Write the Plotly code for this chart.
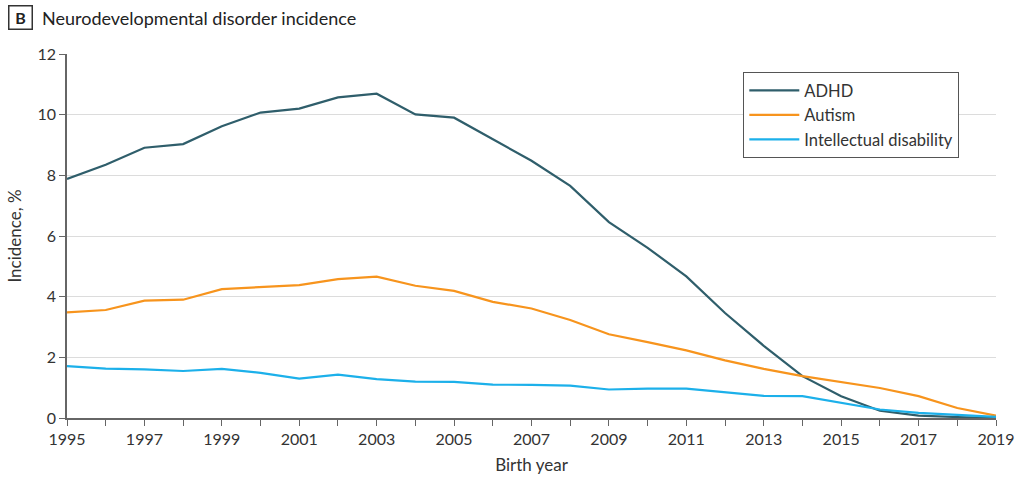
import plotly.graph_objects as go

years = list(range(1995, 2020))
adhd = [7.88, 8.35, 8.91, 9.03, 9.62, 10.07, 10.2, 10.57, 10.69, 10.01, 9.9,
        9.19, 8.48, 7.65, 6.46, 5.61, 4.67, 3.46, 2.38, 1.38, 0.72, 0.24, 0.08, 0.03, 0.0]
autism = [3.48, 3.56, 3.87, 3.9, 4.25, 4.31, 4.38, 4.58, 4.66, 4.36, 4.19,
          3.83, 3.61, 3.23, 2.76, 2.5, 2.23, 1.9, 1.62, 1.38, 1.18, 0.99, 0.72, 0.33, 0.08]
intellectual = [1.71, 1.63, 1.6, 1.55, 1.62, 1.49, 1.3, 1.43, 1.28, 1.2, 1.19,
                1.1, 1.09, 1.07, 0.94, 0.97, 0.97, 0.85, 0.73, 0.72, 0.5, 0.28, 0.17, 0.1, 0.04]
series_names = ["ADHD", "Autism", "Intellectual disability"]
series_colors = ["#2f5e6b", "#f7941d", "#1cb0ea"]
x_tick_vals = list(range(1995, 2020))
x_tick_text = [str(y) if (y - 1995) % 2 == 0 else "" for y in x_tick_vals]
y_tick_vals = [0, 2, 4, 6, 8, 10, 12]

FONT = "Lato"
TXT = "#333333"

fig = go.Figure()
for name, vals, col in zip(series_names, [adhd, autism, intellectual], series_colors):
    fig.add_trace(go.Scatter(x=years, y=vals, mode="lines", name=name,
                             line=dict(color=col, width=2.2)))

fig.update_layout(
    width=1024, height=480,
    margin=dict(l=67, r=28, t=54, b=62, autoexpand=False),
    paper_bgcolor="white", plot_bgcolor="white",
    font=dict(family=FONT, size=16, color=TXT),
    showlegend=True,
    legend=dict(x=0.728, y=0.95, xanchor="left", yanchor="top",
                bordercolor="#555555", borderwidth=1, bgcolor="white",
                font=dict(family=FONT, size=16.5, color=TXT),
                tracegroupgap=0, itemwidth=50),
    xaxis=dict(range=[1995, 2019], tickmode="array", tickvals=x_tick_vals,
               ticktext=x_tick_text, ticks="outside", ticklen=6, tickcolor="#666666",
               showline=True, linecolor="#666666", linewidth=1.5, showgrid=False,
               zeroline=False, automargin=False,
               title=dict(text="Birth year", font=dict(family=FONT, size=17, color=TXT), standoff=12),
               tickfont=dict(family=FONT, size=16, color=TXT)),
    yaxis=dict(range=[0, 12], tickmode="array", tickvals=y_tick_vals,
               ticks="outside", ticklen=6, tickcolor="#666666",
               showline=True, linecolor="#666666", linewidth=1.5,
               showgrid=True, gridcolor="#dcdcdc", gridwidth=1, zeroline=False, automargin=False,
               title=dict(text="Incidence, %", font=dict(family=FONT, size=17, color=TXT), standoff=12),
               tickfont=dict(family=FONT, size=16, color=TXT)),
)

fig.add_annotation(xref="paper", yref="paper", x=-(67 - 20) / 929, y=1 + (54 - 18) / 364,
                   text="<b>B</b>", showarrow=False, xanchor="center", yanchor="middle",
                   font=dict(family=FONT, size=16, color="#222222"),
                   bordercolor="#333333", borderwidth=1.5, width=20, height=20, borderpad=1)
fig.add_annotation(xref="paper", yref="paper", x=-(67 - 40) / 929, y=1 + (54 - 18) / 364,
                   text="Neurodevelopmental disorder incidence", showarrow=False,
                   xanchor="left", yanchor="middle",
                   font=dict(family=FONT, size=18, color="#222222"))

fig.write_html("out.html")
